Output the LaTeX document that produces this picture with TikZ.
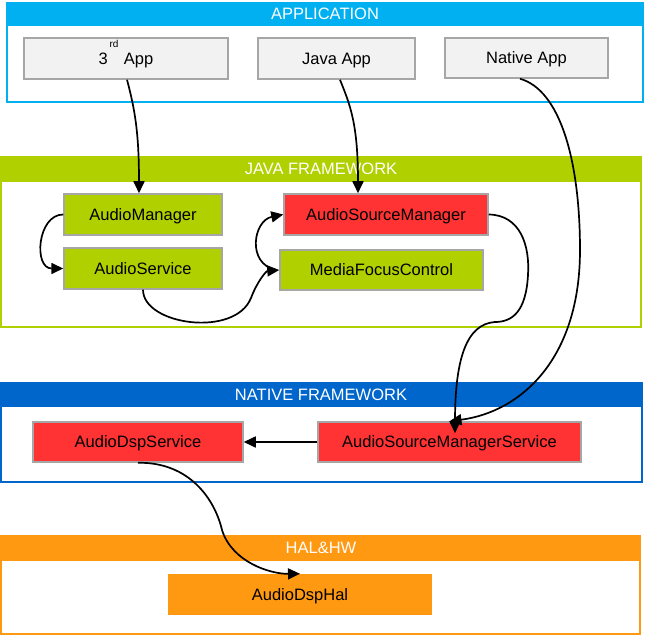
\documentclass[tikz,border=0pt]{standalone}
\usepackage{fontspec}
\setmainfont{Liberation Sans}
\usetikzlibrary{arrows.meta}
\definecolor{appblue}{HTML}{00B0F0}
\definecolor{javagreen}{HTML}{B0D000}
\definecolor{natblue}{HTML}{0066CC}
\definecolor{halorange}{HTML}{FF9912}
\definecolor{boxred}{HTML}{FF3333}
\definecolor{boxgray}{HTML}{F2F2F2}
\definecolor{bordergray}{HTML}{A6A6A6}
\begin{document}
\begin{tikzpicture}[x=1pt,y=-1pt,
  every node/.style={font=\fontsize{16.5}{18}\selectfont},
  hdr/.style={text=white, inner sep=0pt, text height=12pt, text depth=0pt},
  layer/.style={line width=2pt},
  box/.style={draw=bordergray, line width=1.5pt, inner sep=0pt, text=black, text height=12pt, text depth=0pt},
  arr/.style={-{Triangle[length=12pt,width=11pt]}, line width=1.7pt, black}
]
\useasboundingbox (0,0) rectangle (649,636);
% APPLICATION
\draw[layer, appblue] (7,3) rectangle (643,102);
\fill[appblue] (6,2) rectangle (644,26);
\node[hdr] (happ) at (325,14) {APPLICATION};
% JAVA FRAMEWORK
\draw[layer, javagreen] (1,157) rectangle (641,327);
\fill[javagreen] (0,156) rectangle (642,182);
\node[hdr] (hjava) at (321,169) {JAVA FRAMEWORK};
% NATIVE FRAMEWORK
\draw[layer, natblue] (1,383) rectangle (642,482);
\fill[natblue] (0,382) rectangle (643,407);
\node[hdr] (hnat) at (321,394.5) {NATIVE FRAMEWORK};
% HAL&HW
\draw[layer, halorange] (1,536) rectangle (640,634);
\fill[halorange] (0,535) rectangle (641,561);
\node[hdr] (hhal) at (321,548) {HAL\&HW};

% application boxes
\node[box, fill=boxgray, minimum width=204pt, minimum height=41pt] (app3) at (126,58.5) {3\raisebox{17pt}{\fontsize{10}{12}\selectfont\,rd}\,\,App};
\node[box, fill=boxgray, minimum width=157pt, minimum height=41pt] (japp) at (336.5,58.5) {Java App};
\node[box, fill=boxgray, minimum width=163pt, minimum height=40pt] (napp) at (526.5,58) {Native App};

% java framework boxes
\node[box, fill=javagreen, minimum width=158pt, minimum height=41pt] (am) at (143,214.5) {AudioManager};
\node[box, fill=javagreen, minimum width=158pt, minimum height=41pt] (as) at (143,268.5) {AudioService};
\node[box, fill=boxred, minimum width=204pt, minimum height=41pt] (asm) at (386,214.5) {AudioSourceManager};
\node[box, fill=javagreen, minimum width=203pt, minimum height=40pt] (mfc) at (381.5,270) {MediaFocusControl};

% native boxes
\node[box, fill=boxred, minimum width=210pt, minimum height=40pt] (ads) at (138,442) {AudioDspService};
\node[box, fill=boxred, minimum width=263pt, minimum height=40pt] (asms) at (449.5,442) {AudioSourceManagerService};

% hal box
\node[fill=halorange, inner sep=0pt, text height=12pt, text depth=0pt, minimum width=264pt, minimum height=41pt] (adh) at (300,594.5) {AudioDspHal};

% connectors
\draw[arr] ([xshift=1pt]app3.south) .. controls +(8,30) and +(0,-60) .. ([xshift=-4pt]am.north);
\draw[arr] ([xshift=3.5pt]japp.south) .. controls +(10,25) and +(0,-70) .. ([xshift=-28pt]asm.north);
\draw[arr] ([xshift=-6.5pt]napp.south) .. controls (560,90) and (580,160) .. (580,250)
   .. controls (580,360) and (520,412) .. (asms.north);
\draw[arr] (asm.east) .. controls (520,215) and (530,245) .. (528,275)
   .. controls (526,312) and (512,322) .. (495,322)
   .. controls (466,324) and (455,360) .. ([xshift=5.5pt,yshift=-12pt]asms.north);
\draw[arr] (am.west) .. controls +(-26,0) and +(-30,0) .. (as.west);
\draw[arr] (as.south) .. controls (143,325) and (235,338) .. (251,298)
   .. controls (257,282) and (266,271) .. (mfc.west);
\draw[arr] ([xshift=-3pt]mfc.west) .. controls +(-30,-6) and +(-30,6) .. (asm.west);
\draw[arr] (asms.west) -- (ads.east);
\draw[arr] (ads.south) .. controls (190,462) and (215,500) .. (222,530)
   .. controls (232,562) and (270,574) .. (adh.north);
\end{tikzpicture}
\end{document}
